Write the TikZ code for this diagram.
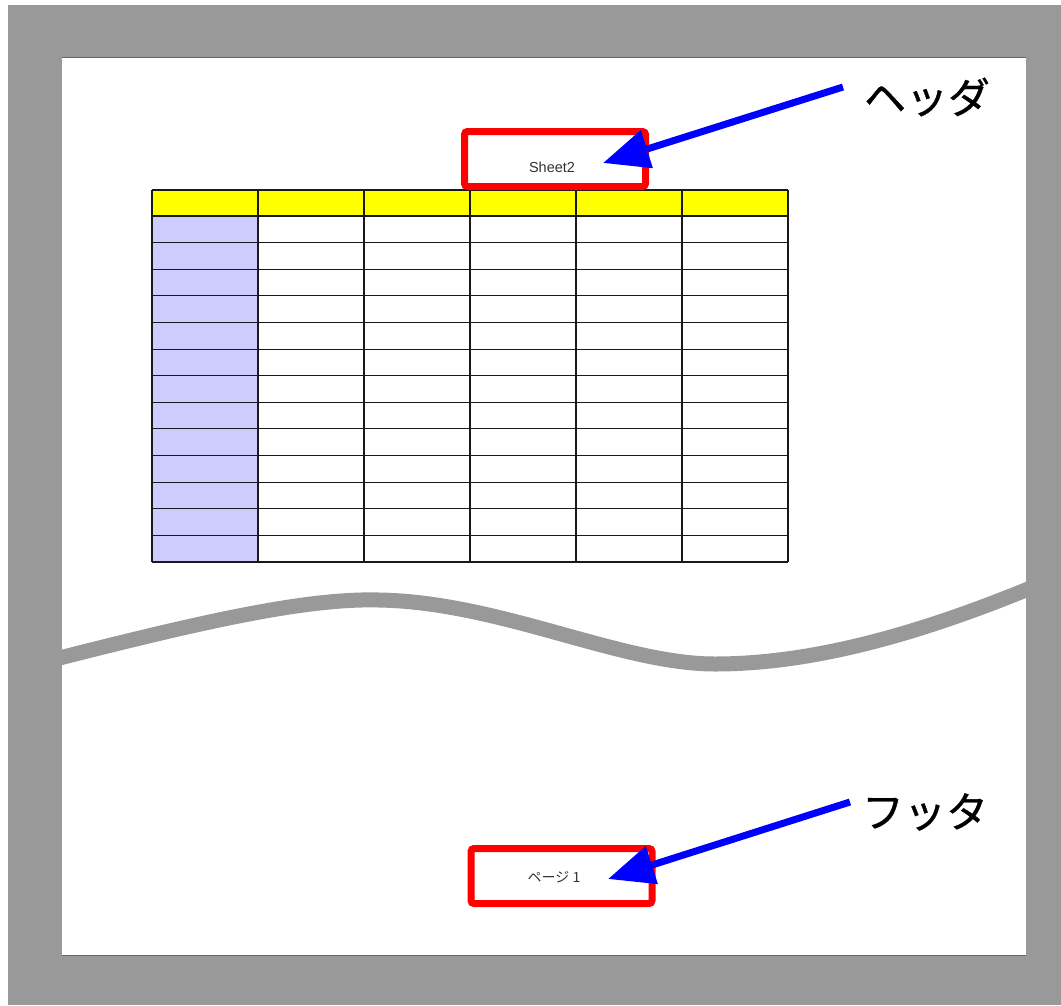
\documentclass[tikz,border=0pt]{standalone}
\usepackage{fontspec}
\setmainfont{Liberation Sans}
\newfontfamily\jp{Noto Sans CJK JP}
\newfontfamily\jpbig[FakeBold=0.8]{Noto Sans CJK JP}
\usetikzlibrary{arrows.meta}
\definecolor{pagegray}{HTML}{999999}
\definecolor{lav}{HTML}{CCCCFF}
\definecolor{edge}{HTML}{666666}
\definecolor{hdryellow}{HTML}{FFFF00}
\tikzset{
  redbox/.style={draw=red,line width=7pt,rounded corners=3pt,minimum width=181pt,minimum height=55pt,inner sep=0pt},
  small/.style={font=\fontsize{14}{16}\selectfont\jp,text=black!80},
  big/.style={font=\fontsize{42}{46}\selectfont\jpbig,text=black,inner sep=0pt},
  bluearrow/.style={draw=blue,line width=7pt,-{Triangle[length=46pt,width=38pt]}},
  cell/.style={draw=black!90,line width=1.1pt}
}
\begin{document}
\begin{tikzpicture}[x=1pt,y=-1pt]
\useasboundingbox (0,0) rectangle (1061,1005);
\fill[white] (0,0) rectangle (1061,1005);
\fill[pagegray] (8,5) rectangle (1061,1005);
\fill[white] (62,57) rectangle (1026,955);
\draw[edge,line width=1pt] (62,57) -- (1026,57);
\draw[edge,line width=1pt] (62,955) -- (1026,955);
% table fills
\fill[hdryellow] (152,190) rectangle (788,216);
\fill[lav] (152,216) rectangle (258,562);
\foreach \r in {0,...,14}{
  \pgfmathsetmacro{\yy}{\r==0 ? 190 : 216+(\r-1)*346/13}
  \draw[cell] (152,\yy) -- (788,\yy);
}
\foreach \c in {0,...,6}{
  \pgfmathsetmacro{\xx}{152+\c*106}
  \draw[cell] (\xx,190) -- (\xx,562);
}
% wave
\begin{scope}
\clip (62,57) rectangle (1026,955);
\draw[pagegray,line width=15pt] (40,663) .. controls (200,622) and (305,598) .. (379,600)
  .. controls (500,602) and (620,664) .. (715,664)
  .. controls (830,664) and (950,622) .. (1050,580);
\end{scope}
% header
\node[redbox] (hbox) at (555,159) {};
\node[small,font=\fontsize{14.5}{16}\selectfont] (htext) at (552,167) {Sheet2};
\node[big] (hlabel) at (927,97) {ヘッダ};
\coordinate (htip) at (603,163);
\coordinate (hstart) at (843,87);
\draw[bluearrow] (hstart) -- (htip);
% footer
\node[redbox] (fbox) at (561.5,876) {};
\node[small] (ftext) at (554,877) {ページ 1};
\node[big] (flabel) at (925,812) {フッタ};
\coordinate (ftip) at (608,879);
\coordinate (fstart) at (850,802);
\draw[bluearrow] (fstart) -- (ftip);
\end{tikzpicture}
\end{document}
